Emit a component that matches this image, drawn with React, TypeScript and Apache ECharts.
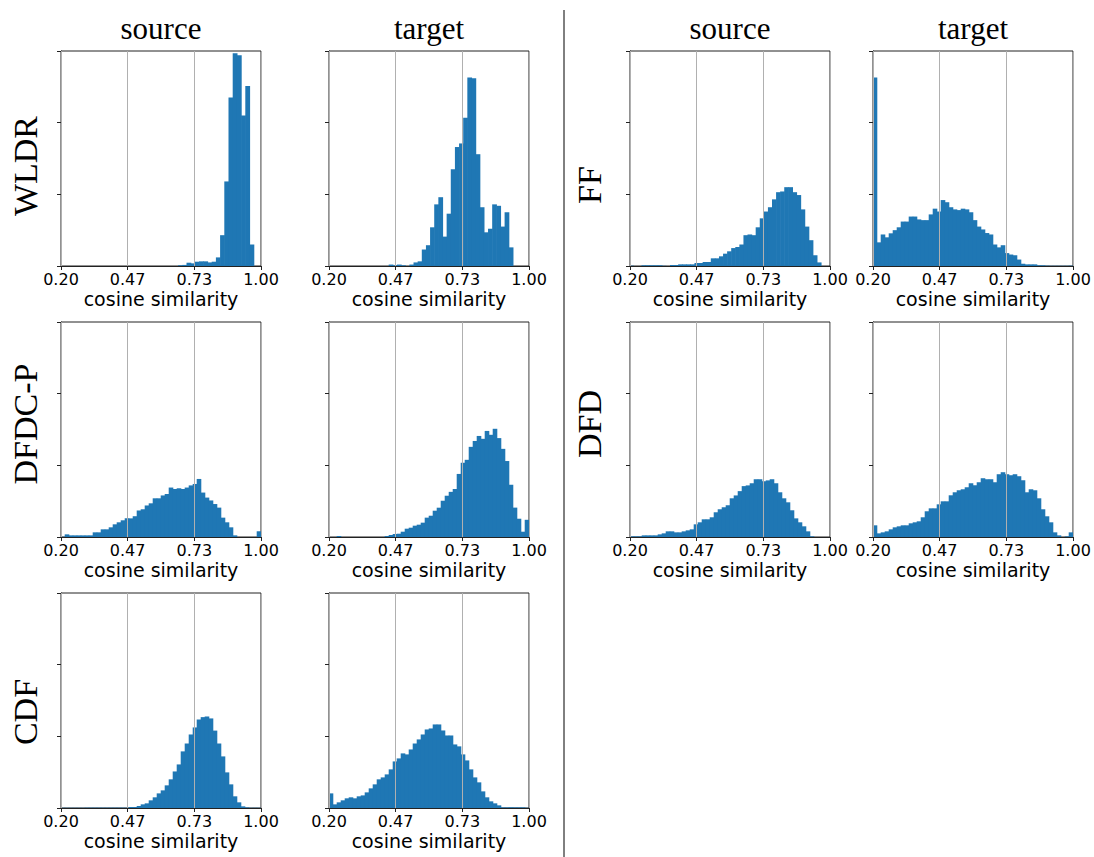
import { useEffect, useRef } from "react";
import * as echarts from "echarts";

// ---------------- data ----------------
const xTickLabels = ["0.20", "0.47", "0.73", "1.00"];
const X_MIN = 0.2;
const X_MAX = 1.0;
const Y_MAX = 300;

const columnTitles = ["source", "target", "source", "target"];
const rowLabels = ["WLDR", "DFDC-P", "CDF", "FF", "DFD"];

// histogram bin starts / widths (cosine similarity units)
const wldrSourceStart = 0.6696;
const wldrSourceWidth = 0.0168;
const wldrSource = [1, 1.5, 4.6, 3.7, 6, 6.5, 6.5, 5, 6, 12, 43, 118, 235, 297, 294, 210, 251, 30];

const wldrTargetStart = 0.4399;
const wldrTargetWidth = 0.01656;
const wldrTarget = [2, 1, 2, 1, 0, 2, 5, 6.5, 23, 29, 54, 86, 96, 41, 73, 135, 166, 171, 207, 263, 262, 156, 82, 47, 52, 86, 84, 55, 75, 26];

const ffSourceStart = 0.198;
const ffSourceWidth = 0.01632;
const ffSource = [0.5, 0, 0, 1, 1, 1, 1, 1, 0.3, 0, 1.4, 1.4, 2.3, 2.3, 2.3, 2.3, 4.2, 4.2, 5.6, 5.6, 10.7, 10.7, 13.5, 17.2, 20.5, 25, 26.5, 30, 43, 44, 43, 54, 66.5, 76, 82, 93, 103, 104, 110, 110, 103, 99, 79, 55, 36, 15, 5, 0, 0, 0];

const stdStart = 0.2;
const stdWidth = 0.016;
const ffTarget = [263, 33, 44, 40, 45.6, 50, 54, 62, 62, 69, 69, 65, 64, 64, 72, 80, 76, 92, 89, 82, 79, 78, 80, 79, 75, 64, 55, 51, 46, 44, 30, 26, 29, 18, 16, 15, 9, 3, 2.3, 2.3, 2.3, 1, 1, 0.5, 0.3, 0.3, 0.3, 0.3, 0.3, 0.5];
const dfdcpSource = [0.5, 3.7, 2.3, 2.3, 2.3, 2.3, 2.3, 2.3, 6.5, 6.5, 10.7, 10.7, 13.5, 17.7, 20.5, 23.3, 26, 26, 29, 37, 38.7, 44, 47, 54, 54, 58, 60, 69, 67, 68, 67, 69, 72, 74, 81, 62, 55, 51, 46, 41, 27, 20.5, 13.5, 2.3, 0, 0, 0, 0, 0, 8];
const dfdcpTarget = [0, 0, 1.4, 0, 0, 0, 0, 0, 0, 0, 0, 0, 0, 0, 1.4, 2.8, 4.2, 4.6, 7.4, 11.6, 13, 15.8, 17.2, 20, 27, 29.7, 36.7, 40.9, 50.6, 57.6, 63, 67, 88, 103.6, 107.7, 125.8, 134, 141, 137, 148, 142.6, 151, 138, 123, 106, 73, 41, 25.5, 7.4, 24];
const dfdSource = [0.9, 0.9, 0.9, 2.3, 2.3, 2.3, 2.3, 3.7, 5.1, 7.9, 7.9, 6.5, 6.5, 7.9, 9.3, 10.7, 17.7, 20.5, 24.7, 24.7, 27.5, 34.5, 38.7, 41.5, 44.3, 54, 58, 64, 71, 72, 75, 80.6, 80.6, 77.8, 79, 80.6, 75, 62.4, 54, 48.4, 37.3, 26, 20.5, 14.9, 7.9, 0.9, 0, 0, 0, 0];
const dfdTarget = [16.3, 5.1, 6.5, 7.9, 10.7, 13.5, 14.9, 16.3, 16.3, 19.1, 20.5, 21.9, 27.5, 35.9, 40, 40, 45.6, 49.8, 49.8, 58.2, 62.4, 65.2, 66.6, 69.4, 75, 72.2, 76.4, 82, 80.6, 80.6, 76.4, 87.6, 90.4, 87.6, 86.2, 87.6, 84.8, 79.2, 62.4, 66.6, 65.2, 54, 38.7, 28.9, 20.5, 6.5, 2.3, 0, 0.9, 6.5];
const cdfSource = [0.3, 0.3, 0.3, 0.3, 0.3, 0.3, 0.5, 0.5, 0.5, 0.5, 0.5, 0.5, 0.5, 0.5, 0.5, 0.5, 0.5, 1.4, 1.4, 2.8, 5.1, 6.5, 10.7, 14.9, 20.4, 24.6, 31.6, 40, 51, 60.8, 79, 90, 102.6, 112.4, 123.5, 126.8, 127.7, 125, 108, 90, 72, 49.7, 33, 16.3, 7.9, 2.3, 0.9, 0.3, 0.3, 0.3];
const cdfTarget = [20.4, 5.1, 7.9, 10.7, 13.5, 14.9, 13.5, 16.3, 17.6, 21.8, 27.4, 33, 40, 42.7, 46.9, 53.9, 65, 69.2, 76.2, 74.8, 81.7, 90, 95.7, 102.6, 109.6, 111, 116.6, 116.6, 108.2, 101.2, 101.2, 88.7, 86, 74.8, 66.4, 53.9, 42.7, 35.8, 23.2, 14.9, 9.3, 6.5, 3.7, 0.9, 0.9, 0.9, 0.9, 0.9, 0.9, 0.3];

// ---------------- layout ----------------
const colLefts = [61, 329, 630, 873];
const rowTops = [51, 322, 593];
const PANEL_W = 200;
const PANEL_H = 215;
const BLUE = "#1f77b4";

const panels = [
  { col: 0, row: 0, counts: wldrSource, start: wldrSourceStart, width: wldrSourceWidth },
  { col: 1, row: 0, counts: wldrTarget, start: wldrTargetStart, width: wldrTargetWidth },
  { col: 0, row: 1, counts: dfdcpSource, start: stdStart, width: stdWidth },
  { col: 1, row: 1, counts: dfdcpTarget, start: stdStart, width: stdWidth },
  { col: 0, row: 2, counts: cdfSource, start: stdStart, width: stdWidth },
  { col: 1, row: 2, counts: cdfTarget, start: stdStart, width: stdWidth },
  { col: 2, row: 0, counts: ffSource, start: ffSourceStart, width: ffSourceWidth },
  { col: 3, row: 0, counts: ffTarget, start: stdStart, width: stdWidth },
  { col: 2, row: 1, counts: dfdSource, start: stdStart, width: stdWidth },
  { col: 3, row: 1, counts: dfdTarget, start: stdStart, width: stdWidth },
];

const titlePos = [161, 429, 730, 973];
const rowLabelPos = [
  { x: 25, y: 166 },
  { x: 25, y: 424 },
  { x: 25, y: 712 },
  { x: 589, y: 185 },
  { x: 589, y: 424 },
];

// map cosine similarity to axis units (0..3, one unit per tick interval)
const toU = (v: number) => ((v - X_MIN) / (X_MAX - X_MIN)) * 3;

function buildOption() {
  const grids: any[] = [];
  const xAxes: any[] = [];
  const yAxes: any[] = [];
  const series: any[] = [];

  panels.forEach((p, i) => {
    grids.push({
      left: colLefts[p.col],
      top: rowTops[p.row],
      width: PANEL_W,
      height: PANEL_H,
      show: true,
      borderColor: "#222",
      borderWidth: 1,
      backgroundColor: "transparent",
      containLabel: false,
    });
    xAxes.push({
      type: "value",
      gridIndex: i,
      min: 0,
      max: 3,
      interval: 1,
      z: 3,
      name: "cosine similarity",
      nameLocation: "middle",
      nameGap: 23,
      nameTextStyle: { fontFamily: "DejaVu Sans", fontSize: 19, color: "#000" },
      axisLine: { show: true, lineStyle: { color: "#222", width: 1 } },
      axisTick: { show: true, length: 4, lineStyle: { color: "#222" } },
      axisLabel: {
        show: true,
        margin: 5,
        fontFamily: "DejaVu Sans",
        fontSize: 16,
        color: "#000",
        formatter: (v: number) => xTickLabels[Math.round(v)] ?? "",
      },
      splitLine: { show: true, lineStyle: { color: "#b0b0b0", width: 1 } },
    });
    yAxes.push({
      type: "value",
      gridIndex: i,
      min: 0,
      max: Y_MAX,
      interval: 100,
      axisLine: { show: true, lineStyle: { color: "#222", width: 1 } },
      axisTick: { show: true, length: 4, lineStyle: { color: "#222" } },
      axisLabel: { show: false },
      splitLine: { show: false },
    });
    const data = p.counts.map((c, k) => [toU(p.start + k * p.width), toU(p.start + (k + 1) * p.width), c]);
    series.push({
      type: "custom",
      xAxisIndex: i,
      yAxisIndex: i,
      clip: true,
      encode: { x: [0, 1], y: 2 },
      data,
      renderItem: (params: any, api: any) => {
        const x0 = api.value(0);
        const x1 = api.value(1);
        const h = api.value(2);
        if (!(h > 0)) return null;
        const p0 = api.coord([x0, h]);
        const p1 = api.coord([x1, 0]);
        return {
          type: "rect",
          shape: { x: p0[0] - 0.3, y: p0[1], width: p1[0] - p0[0] + 0.6, height: p1[1] - p0[1] },
          style: { fill: BLUE },
        };
      },
    });
  });

  const graphics: any[] = [];
  columnTitles.forEach((t, i) => {
    graphics.push({
      type: "text",
      x: titlePos[i],
      y: 28,
      style: {
        text: t,
        fontFamily: "Liberation Serif",
        fontSize: 31,
        fill: "#000",
        align: "center",
        verticalAlign: "middle",
      },
    });
  });
  rowLabels.forEach((t, i) => {
    graphics.push({
      type: "text",
      x: rowLabelPos[i].x,
      y: rowLabelPos[i].y,
      rotation: Math.PI / 2,
      style: {
        text: t,
        fontFamily: "Liberation Serif",
        fontSize: 34,
        fill: "#000",
        align: "center",
        verticalAlign: "middle",
      },
    });
  });
  graphics.push({
    type: "line",
    shape: { x1: 564, y1: 10, x2: 564, y2: 857 },
    style: { stroke: "#000", lineWidth: 1 },
  });

  return {
    animation: false,
    backgroundColor: "#fff",
    grid: grids,
    xAxis: xAxes,
    yAxis: yAxes,
    series,
    graphic: graphics,
  };
}

export default function App() {
  const ref = useRef<HTMLDivElement>(null);
  useEffect(() => {
    if (!ref.current) return;
    const chart = echarts.init(ref.current, undefined, { renderer: "svg" });
    chart.setOption(buildOption() as any);
    return () => chart.dispose();
  }, []);
  return (
    <div
      ref={ref}
      style={{ position: "fixed", left: 0, top: 0, width: 1094, height: 857, background: "#fff" }}
    />
  );
}
